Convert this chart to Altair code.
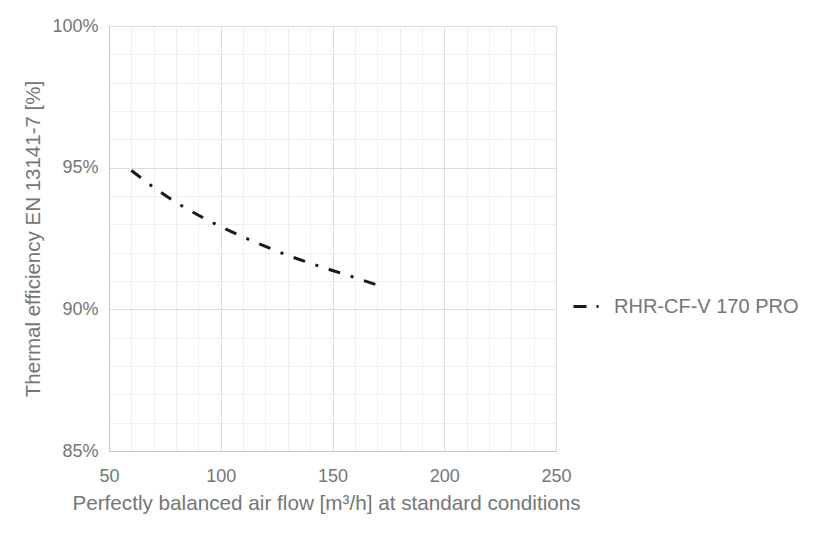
import altair as alt
import pandas as pd

# ---- data ----
series_name = "RHR-CF-V 170 PRO"
air_flow = [60, 70, 80, 90, 100, 110, 120, 130, 140, 150, 160, 170]
efficiency = [94.90, 94.30, 93.77, 93.32, 92.91, 92.55, 92.22, 91.90, 91.63, 91.37, 91.12, 90.86]

x_ticks = list(range(50, 251, 10))
y_ticks = list(range(85, 101, 1))

df = pd.DataFrame({"flow": air_flow, "eff": efficiency, "series": [series_name] * len(air_flow)})

FONT = "Liberation Sans"
TXT = "#767676"

x_axis = alt.Axis(
    values=x_ticks,
    labelExpr="datum.value % 50 === 0 ? datum.value : ''",
    grid=True,
    gridColor={"condition": {"test": "datum.value % 50 === 0", "value": "#dcdcdc"}, "value": "#efefef"},
    gridWidth=1,
    ticks=False,
    domainColor="#c6c6c6",
    labelFontSize=18,
    labelColor=TXT,
    labelFont=FONT,
    labelPadding=16,
    labelOverlap=False,
    labelFlush=False,
    title="Perfectly balanced air flow [m³/h] at standard conditions",
    titleFontSize=20.7,
    titleFontWeight="normal",
    titleColor=TXT,
    titleFont=FONT,
    titlePadding=8,
    titleX=217,
    titleAlign="center",
)

y_axis = alt.Axis(
    values=y_ticks,
    labelExpr="datum.value % 5 === 0 ? datum.value + '%' : ''",
    grid=True,
    gridColor={"condition": {"test": "datum.value % 5 === 0", "value": "#dcdcdc"}, "value": "#efefef"},
    gridWidth=1,
    ticks=False,
    domainColor="#c6c6c6",
    labelFontSize=18,
    labelColor=TXT,
    labelFont=FONT,
    labelPadding=11,
    labelOverlap=False,
    labelFlush=False,
    title="Thermal efficiency EN 13141-7 [%]",
    titleFontSize=20.5,
    titleFontWeight="normal",
    titleColor=TXT,
    titleFont=FONT,
    titlePadding=8,
)

legend = alt.Legend(
    title=None,
    orient="none",
    legendX=463,
    legendY=265,
    symbolType="stroke",
    symbolSize=784,
    symbolStrokeWidth=3,
    symbolDash=[13, 10, 2, 10],
    symbolStrokeColor="#1a1a1a",
    labelFontSize=20,
    labelFont=FONT,
    labelColor=TXT,
    labelOffset=11,
    labelLimit=400,
    padding=0,
)

chart = (
    alt.Chart(df)
    .mark_line(strokeWidth=3, strokeDash=[12, 11, 3, 11], clip=True)
    .encode(
        x=alt.X("flow:Q", scale=alt.Scale(domain=[50, 250], nice=False, zero=False), axis=x_axis),
        y=alt.Y("eff:Q", scale=alt.Scale(domain=[85, 100], nice=False, zero=False), axis=y_axis),
        color=alt.Color("series:N", scale=alt.Scale(range=["#1a1a1a"]), legend=legend),
    )
    .properties(
        width=447,
        height=425,
        autosize=alt.AutoSizeParams(type="none"),
        padding={"left": 101, "top": 18, "right": 263, "bottom": 83},
    )
    .configure_view(stroke=None)
    .configure(background="white")
)

chart.save("out.html", embed_options={"renderer": "svg", "actions": False})
